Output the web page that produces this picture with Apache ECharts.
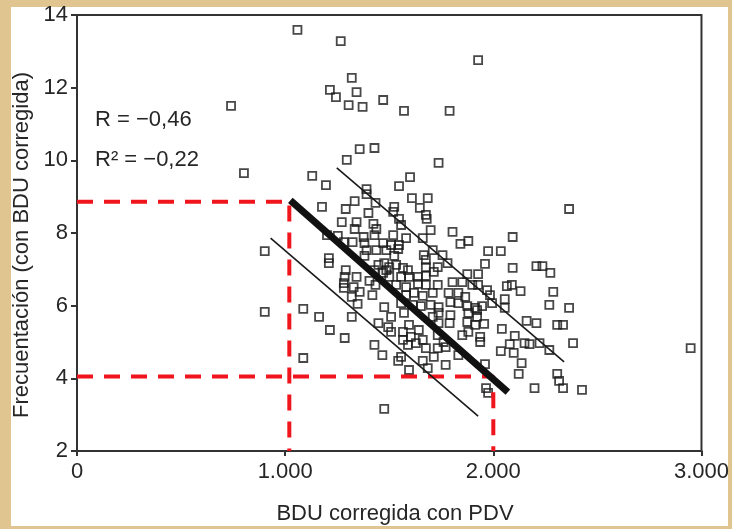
<!DOCTYPE html>
<html>
<head>
<meta charset="utf-8">
<script src="https://cdn.jsdelivr.net/npm/echarts@6/dist/echarts.min.js"></script>
<style>
html,body{margin:0;padding:0;background:#e0c590;}
#c{width:732px;height:529px;}
</style>
</head>
<body>
<div id="c"></div>
<script>
// ---- data ----
const xTickValues = [0, 1000, 2000, 3000];
const xTickLabels = ['0', '1.000', '2.000', '3.000'];
const yTickValues = [2, 4, 6, 8, 10, 12, 14];
const yTickLabels = ['2', '4', '6', '8', '10', '12', '14'];

const xTitle = 'BDU corregida con PDV';
const yTitle = 'Frecuentación (con BDU corregida)';
const statR = 'R = \u22120,46';
const statR2 = 'R\u00B2 = \u22120,22';

const pointsTop = [
 [1059,13.59],[1267,13.28],[740,11.50],[1320,12.27],[1215,11.94],[1244,11.74],[1343,11.88],
 [1305,11.52],[1372,11.47],[1927,12.76],[1471,11.66],[1571,11.36],[1790,11.36],[802,9.65],
 [1358,10.31],[1429,10.34],[1296,10.01],[1737,9.93]
];
const pointsUpper = [
 [1130,9.57],[1196,9.32],[1600,9.54],[1547,9.29],[1391,9.21],[1391,9.07],[1609,8.96],[1685,8.96],
 [1334,8.88],[1434,8.83],[1177,8.72],[1291,8.66],[1524,8.72],[1519,8.58],[1647,8.69],[2364,8.66],
 [1400,8.55],[1676,8.50],[1680,8.39],[1547,8.39],[1272,8.30],[1343,8.30],[1424,8.25],[1334,8.11],
 [1438,8.11],[1557,8.22],[1699,8.08],[1804,8.03],[1201,7.94],[1253,7.92],[2093,7.89],[1377,7.89],
 [1429,7.94],[1519,7.94],[1581,7.86],[1661,7.86],[1880,7.78],[1842,7.70],[1324,7.75],[1381,7.72],
 [1471,7.72],[1509,7.67],[1547,7.67],[1282,7.75],[1438,7.53],[1391,7.53],[1486,7.53],[1543,7.56],
 [1709,7.53],[1756,7.39],[1975,7.50],[2036,7.50],[1666,7.39],[1381,7.37],[1524,7.37],[1210,7.31],
 [1210,7.17],[1960,7.15],[1676,7.26],[1780,7.17],[1448,7.12],[1476,7.17],[1500,7.06],[1533,7.12],
 [1566,7.04],[1590,6.98],[1676,7.06],[1733,7.06],[1429,6.98],[1486,6.98],[1291,6.98],[902,7.50]
];
const pointsMiddle = [
 [1286,6.79],[1343,6.79],[1405,6.68],[1471,6.90],[1500,6.79],[1557,6.79],[1595,6.79],[1638,6.79],
 [1676,6.82],[1714,6.93],[1875,6.87],[1927,6.87],[2093,7.04],[2207,7.09],[2236,7.09],[2274,6.90],
 [1804,6.65],[1851,6.65],[1899,6.57],[1927,6.57],[2065,6.54],[2089,6.57],[1282,6.62],[1329,6.51],
 [1282,6.49],[1434,6.57],[1533,6.57],[1581,6.51],[1638,6.60],[1676,6.57],[1733,6.57],[1320,6.24],
 [1358,6.38],[1348,6.05],[1419,6.29],[1581,6.29],[1619,6.35],[1661,6.27],[1709,6.35],[1785,6.35],
 [1832,6.35],[1865,6.24],[1970,6.43],[1984,6.29],[2131,6.40],[2288,6.38],[2055,6.18],[1794,6.10],
 [1832,6.07],[1875,5.99],[1913,5.94],[1946,5.99],[1994,6.07],[2055,5.94],[2269,6.02],[2364,5.94],
 [1557,6.07],[1614,6.02],[1652,5.99],[1699,6.02],[1737,5.96],[1476,5.96],[1087,5.91],[902,5.83]
];
const pointsLower = [
 [1163,5.69],[1320,5.69],[1509,5.69],[1571,5.80],[1709,5.69],[1737,5.80],[1794,5.74],[1880,5.80],
 [1922,5.88],[1922,5.69],[1215,5.33],[1286,5.11],[1448,5.52],[1495,5.41],[1509,5.28],[1566,5.28],
 [1595,5.47],[1642,5.33],[1737,5.52],[1790,5.52],[1875,5.55],[1913,5.47],[1956,5.50],[2041,5.36],
 [2160,5.58],[2207,5.52],[2307,5.47],[2335,5.47],[1851,5.19],[1880,5.28],[1937,5.14],[1937,5.00],
 [2103,5.17],[2079,4.94],[2150,4.97],[2174,4.94],[2222,4.97],[2383,4.97],[2036,4.75],[2098,4.70],
 [2269,4.78],[2136,4.42],[1566,5.06],[1604,5.14],[1661,5.06],[1733,5.19],[1761,5.00],[1590,4.92],
 [1628,4.97],[1676,4.83],[1733,4.83],[1771,4.86],[1429,4.92],[1467,4.64],[1557,4.59],[1543,4.48],
 [1661,4.48],[1714,4.59],[1832,4.64],[1771,4.37],[1685,4.28],[1595,4.23],[1087,4.56],[1960,4.39],
 [2307,4.12],[2316,3.93],[2335,3.73],[2198,3.73],[2122,4.12],[1965,3.73],[1975,3.60],[2426,3.68],
 [2948,4.83],[1476,3.16]
];

// regression line and parallel limits
const regLine = [[1025, 8.90], [2070, 3.62]];
const upperLine = [[1248, 9.79], [2340, 4.45]];
const lowerLine = [[930, 7.86], [1927, 2.96]];
// red reference guides
const guideHigh = [[0, 8.86], [1020, 8.86], [1020, 2]];
const guideLow = [[0, 4.05], [2000, 4.05], [2000, 2]];

const allPoints = pointsTop.concat(pointsUpper, pointsMiddle, pointsLower);

const FONT = "'Liberation Sans', Arial, sans-serif";
const chart = echarts.init(document.getElementById('c'));
chart.setOption({
  backgroundColor: '#e0c590',
  animation: false,
  graphic: [
    { type: 'rect', z: -100, shape: { x: 11, y: 7, width: 717, height: 519 }, style: { fill: '#ffffff' } },
    { type: 'text', z: 10, x: 395, y: 514,
      style: { text: xTitle, font: '22px ' + FONT, fill: '#262626', textAlign: 'center', textVerticalAlign: 'middle' } },
    { type: 'text', z: 10, x: 22, y: 245, rotation: Math.PI / 2,
      style: { text: yTitle, font: '22px ' + FONT, fill: '#262626', textAlign: 'center', textVerticalAlign: 'middle' } },
    { type: 'text', z: 10, x: 95, y: 120,
      style: { text: statR, font: '22px ' + FONT, fill: '#262626', textAlign: 'left', textVerticalAlign: 'middle' } },
    { type: 'text', z: 10, x: 95, y: 160,
      style: { text: statR2, font: '22px ' + FONT, fill: '#262626', textAlign: 'left', textVerticalAlign: 'middle' } }
  ],
  grid: { left: 77, top: 15, right: 23, bottom: 78, show: true, borderColor: '#333', borderWidth: 2, backgroundColor: 'transparent' },
  xAxis: {
    type: 'value', min: 0, max: 3000, interval: 1000,
    axisLine: { lineStyle: { color: '#333', width: 2 } },
    axisTick: { show: true, length: 5, lineStyle: { color: '#333', width: 2 } },
    axisLabel: { color: '#262626', fontSize: 22, fontFamily: FONT, margin: 10,
      formatter: v => xTickLabels[xTickValues.indexOf(v)] },
    splitLine: { show: false }
  },
  yAxis: {
    type: 'value', min: 2, max: 14, interval: 2,
    axisLine: { lineStyle: { color: '#333', width: 2 } },
    axisTick: { show: true, length: 6, lineStyle: { color: '#333', width: 2 } },
    axisLabel: { color: '#262626', fontSize: 22, fontFamily: FONT, margin: 9,
      formatter: v => yTickLabels[yTickValues.indexOf(v)] },
    splitLine: { show: false }
  },
  series: [
    { type: 'scatter', data: allPoints, symbol: 'rect', symbolSize: 8, z: 2,
      itemStyle: { color: 'rgba(255,255,255,0)', borderColor: '#1a1a1a', borderWidth: 1.8 } },
    { type: 'line', data: guideHigh, symbol: 'none', z: 3,
      lineStyle: { color: '#f0141c', width: 4, type: [16, 11] } },
    { type: 'line', data: guideLow, symbol: 'none', z: 3,
      lineStyle: { color: '#f0141c', width: 4, type: [16, 11] } },
    { type: 'line', data: upperLine, symbol: 'none', z: 4, lineStyle: { color: '#1a1a1a', width: 1.6 } },
    { type: 'line', data: lowerLine, symbol: 'none', z: 4, lineStyle: { color: '#1a1a1a', width: 1.6 } },
    { type: 'line', data: regLine, symbol: 'none', z: 5, lineStyle: { color: '#111', width: 7 } }
  ]
});
</script>
</body>
</html>
